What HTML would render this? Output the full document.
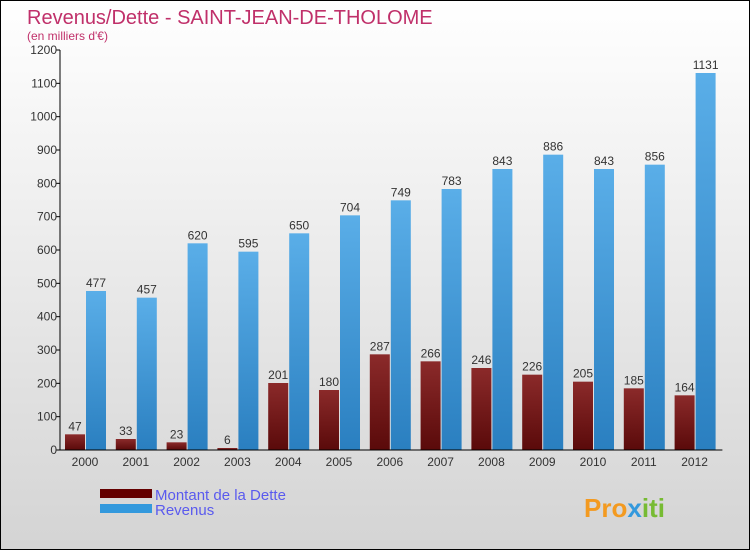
<!DOCTYPE html>
<html><head><meta charset="utf-8"><style>
html,body{margin:0;padding:0}
body{width:750px;height:550px;overflow:hidden;font-family:"Liberation Sans",sans-serif}
#wrap{position:relative;width:748px;height:548px;border:1px solid #000;background:linear-gradient(#ffffff,#d4d4d4)}
</style></head><body>
<div id="wrap">
<svg id="chart" width="748" height="548" viewBox="0 0 748 548">
<defs>
<linearGradient id="gd" x1="0" y1="0" x2="0" y2="1"><stop offset="0" stop-color="#8b2a2a"/><stop offset="1" stop-color="#5a0a0a"/></linearGradient>
<linearGradient id="gr" x1="0" y1="0" x2="0" y2="1"><stop offset="0" stop-color="#5aaee8"/><stop offset="1" stop-color="#2a7fc0"/></linearGradient>
</defs>
<text x="26" y="23" font-size="20" fill="#c0306a">Revenus/Dette - SAINT-JEAN-DE-THOLOME</text>
<text x="26" y="39" font-size="12" fill="#c0306a">(en milliers d'€)</text>
<g id="g"></g>
<rect x="99" y="488" width="52" height="9" fill="#640000"/>
<text x="154" y="499" font-size="15" fill="#5a5aee">Montant de la Dette</text>
<rect x="99" y="503" width="52" height="9" fill="#3399dd"/>
<text x="154" y="514" font-size="15" fill="#5a5aee">Revenus</text>
<text x="583" y="516" font-size="26" font-weight="bold" fill="#f39a20">Pro<tspan fill="#3399dd">x</tspan><tspan fill="#77bb33">iti</tspan></text>
</svg>
</div>
<script>
const years=["2000","2001","2002","2003","2004","2005","2006","2007","2008","2009","2010","2011","2012"];
const dette=[47,33,23,6,201,180,287,266,246,226,205,185,164];
const revenus=[477,457,620,595,650,704,749,783,843,886,843,856,1131];
const yTicks=[0,100,200,300,400,500,600,700,800,900,1000,1100,1200];
const NS="http://www.w3.org/2000/svg";
const g=document.getElementById('g');
const y0=449,yTop=49,yMax=1200,x0=59,step=50.8;
function y(v){return y0-(v/yMax)*(y0-yTop);}
function xc(i){return x0+25+i*step;}
function mk(t,a){const e=document.createElementNS(NS,t);for(const k in a)e.setAttribute(k,a[k]);g.appendChild(e);return e;}
yTicks.forEach(v=>{
 const l=mk('line',{x1:x0-4,x2:x0,y1:y(v),y2:y(v),stroke:'#000'});
 
 
 const t=mk('text',{x:x0-3,y:y(v)+4,'font-size':12,'text-anchor':'end',fill:'#333'});
 t.textContent=v;
 
 
});
years.forEach((yr,i)=>{
 const c=xc(i);
 const d=mk('rect',{x:c-20,y:y(dette[i]),width:20,height:y0-y(dette[i]),fill:'url(#gd)'});
 
 
 const r=mk('rect',{x:c+1,y:y(revenus[i]),width:20,height:y0-y(revenus[i]),fill:'url(#gr)'});
 
 
 const td=mk('text',{x:c-10,y:y(dette[i])-4,'font-size':12,'text-anchor':'middle',fill:'#333'});
 td.textContent=dette[i];
 
 
 const tr=mk('text',{x:c+11,y:y(revenus[i])-4,'font-size':12,'text-anchor':'middle',fill:'#333'});
 tr.textContent=revenus[i];
 
 
 const tx=mk('text',{x:c,y:465,'font-size':12,'text-anchor':'middle',fill:'#333'});
 tx.textContent=yr;
 
 
});
const ax=mk('line',{x1:x0,x2:x0,y1:yTop,y2:y0,stroke:'#000'});


const bx=mk('line',{x1:x0,x2:x0+step*13+2,y1:y0,y2:y0,stroke:'#000'});


</script>
</body></html>
